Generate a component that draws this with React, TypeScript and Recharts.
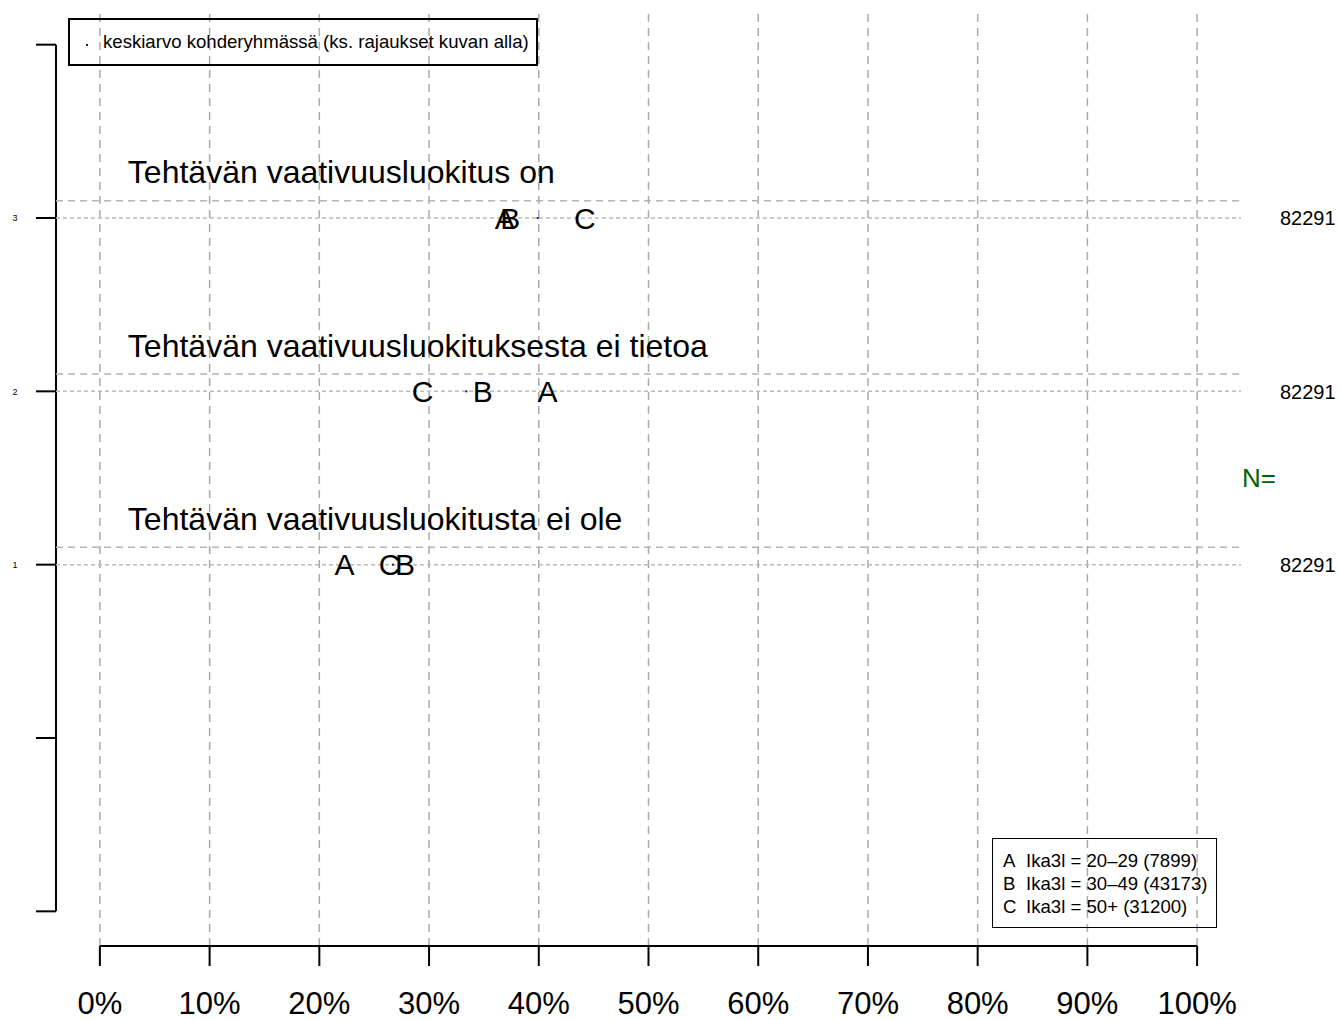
import React from 'react';
import {
  ScatterChart,
  Scatter,
  XAxis,
  YAxis,
  ReferenceLine,
} from 'recharts';

// rows from top to bottom
const rowValues = [3, 2, 1];
const rowTitles = [
  'Tehtävän vaativuusluokitus on',
  'Tehtävän vaativuusluokituksesta ei tietoa',
  'Tehtävän vaativuusluokitusta ei ole',
];
const groupA = [36.9, 40.8, 22.3];
const groupB = [37.4, 34.9, 27.8];
const groupC = [44.2, 29.4, 26.4];
const means = [39.9, 33.4, 26.7];
const rowN = [82291, 82291, 82291];

const groupLetters = ['A', 'B', 'C'];
const groupLabels = ['Ika3l = 20–29 (7899)', 'Ika3l = 30–49 (43173)', 'Ika3l = 50+ (31200)'];
const meanLabel = 'keskiarvo kohderyhmässä (ks. rajaukset kuvan alla)';

const xTicks = [0, 10, 20, 30, 40, 50, 60, 70, 80, 90, 100];
const yTicks = [-1, 0, 1, 2, 3, 4];
const yLabelTicks = [1, 2, 3];

const FONT = '"Liberation Sans", Arial, Helvetica, sans-serif';
const X_DOMAIN: [number, number] = [-4, 104];
const Y_DOMAIN: [number, number] = [-1.2, 4.2];
const MEAN_COLOR = '#2a0a9a';

const toPoints = (vals: number[]) => vals.map((v, i) => ({ x: v, y: rowValues[i] }));

const letterShape = (letter: string) => (props: any) => (
  <text
    x={props.cx}
    y={props.cy}
    dy="0.36em"
    textAnchor="middle"
    fontSize={30}
    fontFamily={FONT}
    fill="#000"
  >
    {letter}
  </text>
);

const meanShape = (props: any) => (
  <rect x={props.cx - 1} y={props.cy - 1} width={2} height={2} fill={MEAN_COLOR} />
);

const titleShape = (props: any) => (
  <text x={props.cx} y={props.cy} textAnchor="start" fontSize={32} fontFamily={FONT} fill="#000">
    {props.payload.label}
  </text>
);

const nShape = (props: any) => (
  <text
    x={props.cx + 39}
    y={props.cy}
    dy="0.36em"
    textAnchor="start"
    fontSize={20}
    fontFamily={FONT}
    fill="#000"
  >
    {props.payload.n}
  </text>
);

const nHeaderShape = (props: any) => (
  <text
    x={props.cx + 18}
    y={props.cy}
    dy="0.36em"
    textAnchor="middle"
    fontSize={26}
    fontFamily={FONT}
    fill="#006400"
  >
    N=
  </text>
);

const YTick = (props: any) => {
  const v = props.payload?.value;
  if (!yLabelTicks.includes(v)) return <g />;
  return (
    <text x={15} y={props.y} dy="0.36em" textAnchor="middle" fontSize={9} fontFamily={FONT} fill="#000">
      {v}
    </text>
  );
};

export default function App() {
  const titleData = rowTitles.map((label, i) => ({ x: 2.55, y: rowValues[i] + 0.2, label }));
  const nData = rowN.map((n, i) => ({ x: 104, y: rowValues[i], n }));

  return (
    <div style={{ position: 'absolute', left: 0, top: 0, width: 1340, height: 1020, background: '#fff' }}>
      <ScatterChart
        width={1340}
        height={1020}
        margin={{ top: 10, right: 99, bottom: 10, left: 16 }}
      >
        <XAxis
          type="number"
          dataKey="x"
          domain={X_DOMAIN}
          ticks={xTicks}
          interval={0}
          height={64}
          axisLine={false}
          tickLine={{ stroke: '#000', strokeWidth: 2 }}
          tickSize={20}
          tickMargin={26}
          tickFormatter={(v: number) => `${v}%`}
          tick={{ fontSize: 31, fill: '#000', fontFamily: FONT }}
        />
        <YAxis
          type="number"
          dataKey="y"
          domain={Y_DOMAIN}
          ticks={yTicks}
          interval={0}
          width={40}
          axisLine={false}
          tickLine={{ stroke: '#000', strokeWidth: 2 }}
          tickSize={20}
          tick={<YTick />}
        />

        {/* vertical grid */}
        {xTicks.map((v) => (
          <ReferenceLine key={`g${v}`} x={v} stroke="#aaaaaa" strokeDasharray="8 6" strokeWidth={1.5} />
        ))}

        {/* axis lines only between first and last tick */}
        <ReferenceLine
          segment={[{ x: 0, y: Y_DOMAIN[0] }, { x: 100, y: Y_DOMAIN[0] }]}
          stroke="#000"
          strokeWidth={2}
          ifOverflow="visible"
        />
        <ReferenceLine
          segment={[{ x: X_DOMAIN[0], y: -1 }, { x: X_DOMAIN[0], y: 4 }]}
          stroke="#000"
          strokeWidth={2}
          ifOverflow="visible"
        />

        {rowValues.map((r) => (
          <ReferenceLine key={`t${r}`} y={r + 0.1} stroke="#b4b4b4" strokeDasharray="7 5" strokeWidth={1.5} />
        ))}
        {rowValues.map((r) => (
          <ReferenceLine key={`r${r}`} y={r} stroke="#bcbcbc" strokeDasharray="4 3" strokeWidth={1.5} />
        ))}

        <Scatter data={titleData} shape={titleShape} isAnimationActive={false} />
        <Scatter data={toPoints(groupA)} shape={letterShape(groupLetters[0])} isAnimationActive={false} />
        <Scatter data={toPoints(groupB)} shape={letterShape(groupLetters[1])} isAnimationActive={false} />
        <Scatter data={toPoints(groupC)} shape={letterShape(groupLetters[2])} isAnimationActive={false} />
        <Scatter data={toPoints(means)} shape={meanShape} isAnimationActive={false} />
        <Scatter data={nData} shape={nShape} isAnimationActive={false} />
        <Scatter data={[{ x: 104, y: 1.5 }]} shape={nHeaderShape} isAnimationActive={false} />
      </ScatterChart>

      {/* mean legend */}
      <div
        style={{
          position: 'absolute',
          left: 68,
          top: 18,
          width: 470,
          height: 48,
          boxSizing: 'border-box',
          border: '2px solid #000',
          fontFamily: FONT,
          fontSize: 18.6,
          color: '#000',
        }}
      >
        <div style={{ position: 'absolute', left: 16, top: 24, width: 2, height: 2, background: MEAN_COLOR }} />
        <div style={{ position: 'absolute', left: 33, top: 0, height: 44, lineHeight: '44px', whiteSpace: 'nowrap' }}>
          {meanLabel}
        </div>
      </div>

      {/* group legend */}
      <div
        style={{
          position: 'absolute',
          left: 992,
          top: 838,
          width: 225,
          height: 90,
          boxSizing: 'border-box',
          border: '1px solid #000',
          fontFamily: FONT,
          fontSize: 18.6,
          lineHeight: '23px',
          color: '#000',
          paddingTop: 10,
          paddingLeft: 10,
        }}
      >
        {groupLetters.map((l, i) => (
          <div key={l} style={{ whiteSpace: 'nowrap' }}>
            <span style={{ display: 'inline-block', width: 23 }}>{l}</span>
            {groupLabels[i]}
          </div>
        ))}
      </div>
    </div>
  );
}
